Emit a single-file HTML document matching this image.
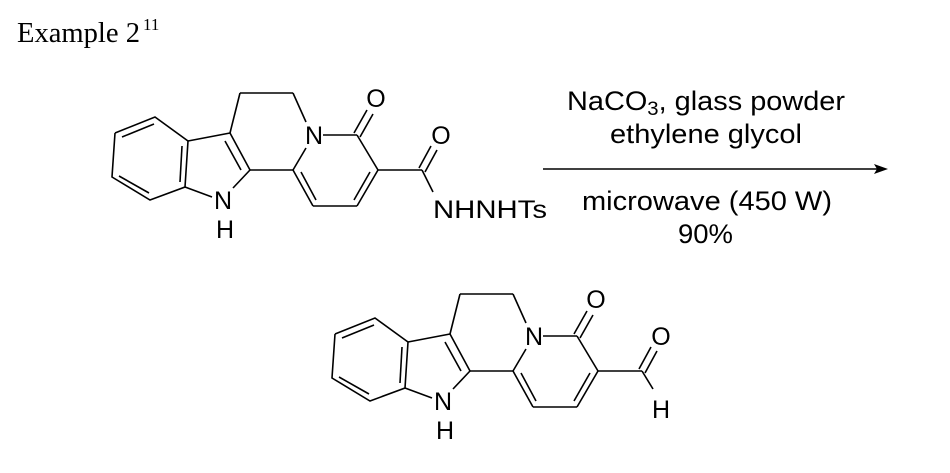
<!DOCTYPE html>
<html><head><meta charset="utf-8"><style>
html,body{margin:0;padding:0;background:#fff;}
svg{display:block;}
.t{font-family:"Liberation Sans",sans-serif;font-size:25px;fill:#000;}
.r{font-family:"Liberation Sans",sans-serif;font-size:27px;fill:#000;}
.s{font-family:"Liberation Serif",serif;fill:#000;}
</style></head><body>
<svg width="950" height="473" viewBox="0 0 950 473" xmlns="http://www.w3.org/2000/svg">
<text class="s" x="17" y="42" font-size="28" textLength="123" lengthAdjust="spacingAndGlyphs">Example 2</text>
<text class="s" x="143" y="30" font-size="17">11</text>

<g stroke="#000" stroke-width="1.6" fill="none">
  <polyline points="115,133 155,117 188,141 185,187 150,200 112,177 115,133"/>
  <line x1="122" y1="137" x2="154" y2="124"/>
  <line x1="182" y1="146" x2="180" y2="182"/>
  <line x1="149" y1="193" x2="119" y2="176"/>
  <line x1="188" y1="141" x2="230" y2="133"/>
  <line x1="230" y1="133" x2="250" y2="170"/>
  <line x1="225" y1="141" x2="241" y2="170"/>
  <line x1="185" y1="187" x2="212" y2="197"/>
  <line x1="250" y1="170" x2="233" y2="188"/>
  <line x1="230" y1="133" x2="240" y2="93"/>
  <line x1="240" y1="93" x2="293" y2="93"/>
  <line x1="293" y1="93" x2="306" y2="122"/>
  <line x1="323" y1="135" x2="357" y2="135"/>
  <line x1="306" y1="148" x2="293" y2="170"/>
  <line x1="250" y1="170" x2="293" y2="170"/>
  <line x1="293" y1="170" x2="313" y2="206"/>
  <line x1="301" y1="172" x2="316" y2="200"/>
  <line x1="313" y1="206" x2="357" y2="206"/>
  <line x1="357" y1="206" x2="378" y2="170"/>
  <line x1="354" y1="200" x2="370" y2="172"/>
  <line x1="378" y1="170" x2="357" y2="135"/>
  <line x1="354" y1="133" x2="367" y2="110"/>
  <line x1="360" y1="137" x2="373" y2="114"/>
  <line x1="378" y1="170" x2="422" y2="170"/>
  <line x1="419" y1="168" x2="431" y2="146"/>
  <line x1="425" y1="172" x2="437" y2="150"/>
  <line x1="422" y1="170" x2="433" y2="192"/>
</g>
<g class="t" text-anchor="middle">
  <text x="223" y="209">N</text>
  <text x="225" y="238">H</text>
  <text x="314" y="144">N</text>
  <text x="376" y="107">O</text>
  <text x="441" y="144">O</text>
</g>
<text class="t" x="433" y="218" textLength="114" lengthAdjust="spacingAndGlyphs">NHNHTs</text>

<g transform="translate(220,201)">
<g stroke="#000" stroke-width="1.6" fill="none">
  <polyline points="115,133 155,117 188,141 185,187 150,200 112,177 115,133"/>
  <line x1="122" y1="137" x2="154" y2="124"/>
  <line x1="182" y1="146" x2="180" y2="182"/>
  <line x1="149" y1="193" x2="119" y2="176"/>
  <line x1="188" y1="141" x2="230" y2="133"/>
  <line x1="230" y1="133" x2="250" y2="170"/>
  <line x1="225" y1="141" x2="241" y2="170"/>
  <line x1="185" y1="187" x2="212" y2="197"/>
  <line x1="250" y1="170" x2="233" y2="188"/>
  <line x1="230" y1="133" x2="240" y2="93"/>
  <line x1="240" y1="93" x2="293" y2="93"/>
  <line x1="293" y1="93" x2="306" y2="122"/>
  <line x1="323" y1="135" x2="357" y2="135"/>
  <line x1="306" y1="148" x2="293" y2="170"/>
  <line x1="250" y1="170" x2="293" y2="170"/>
  <line x1="293" y1="170" x2="313" y2="206"/>
  <line x1="301" y1="172" x2="316" y2="200"/>
  <line x1="313" y1="206" x2="357" y2="206"/>
  <line x1="357" y1="206" x2="378" y2="170"/>
  <line x1="354" y1="200" x2="370" y2="172"/>
  <line x1="378" y1="170" x2="357" y2="135"/>
  <line x1="354" y1="133" x2="367" y2="110"/>
  <line x1="360" y1="137" x2="373" y2="114"/>
  <line x1="378" y1="170" x2="422" y2="170"/>
  <line x1="419" y1="168" x2="431" y2="146"/>
  <line x1="425" y1="172" x2="437" y2="150"/>
  <line x1="422" y1="170" x2="433" y2="188"/>
</g>
<g class="t" text-anchor="middle">
  <text x="223" y="209">N</text>
  <text x="225" y="238">H</text>
  <text x="314" y="144">N</text>
  <text x="376" y="107">O</text>
  <text x="441" y="144">O</text>
  <text x="441" y="217">H</text>
</g>
</g>

<line x1="543" y1="169" x2="878" y2="169" stroke="#000" stroke-width="1.6"/>
<polygon points="888,169 874,164 877,169 874,174" fill="#000"/>
<g class="r">
  <text x="567" y="110" textLength="278" lengthAdjust="spacingAndGlyphs">NaCO<tspan font-size="19" dy="5">3</tspan><tspan dy="-5">, glass powder</tspan></text>
  <text x="610" y="143" textLength="192" lengthAdjust="spacingAndGlyphs">ethylene glycol</text>
  <text x="582" y="210" textLength="250" lengthAdjust="spacingAndGlyphs">microwave (450 W)</text>
  <text x="678" y="243" textLength="55" lengthAdjust="spacingAndGlyphs">90%</text>
</g>
</svg>
</body></html>
